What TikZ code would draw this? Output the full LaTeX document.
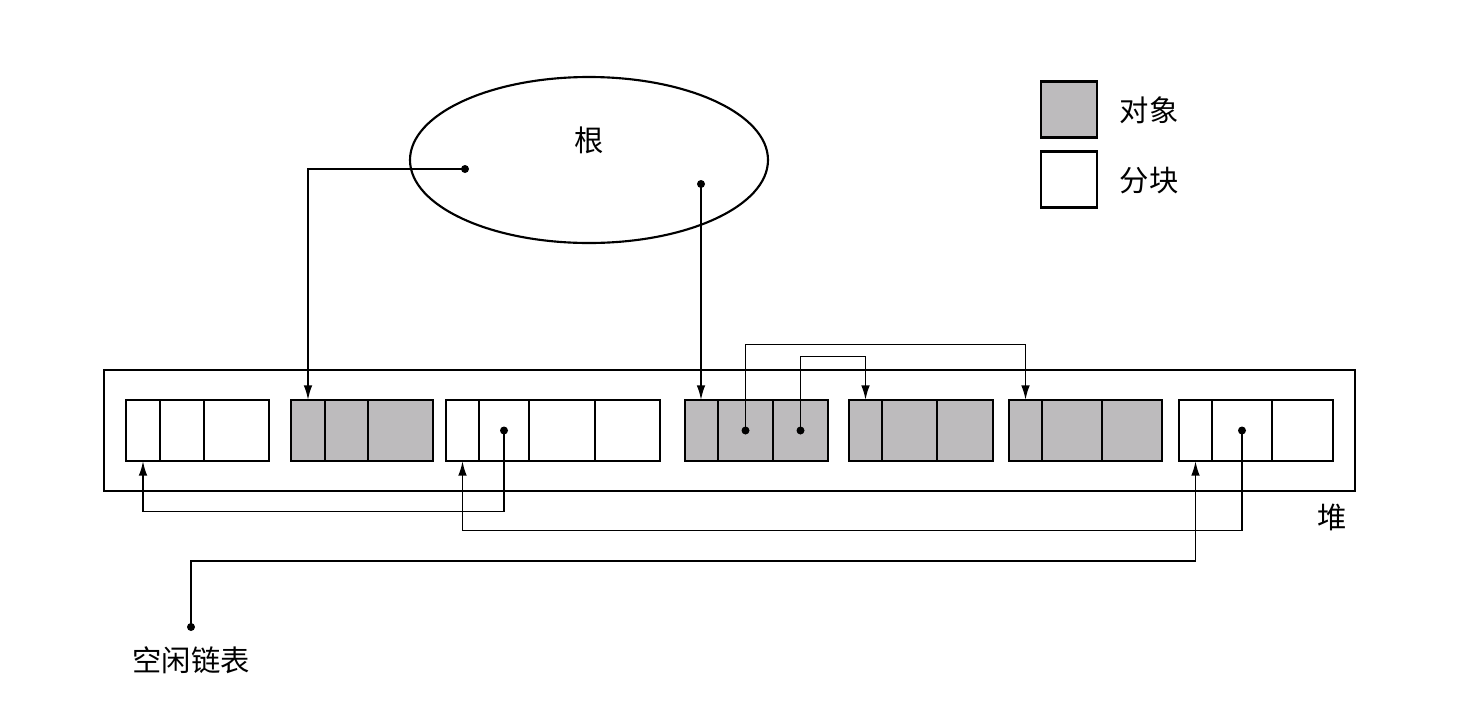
\documentclass[tikz,border=0pt]{standalone}
\usepackage{fontspec}
\newfontfamily\cjk{Noto Sans CJK SC}
\usetikzlibrary{arrows.meta,shapes.geometric}
\definecolor{objgray}{RGB}{189,187,189}

\begin{document}
\begin{tikzpicture}[
    x=0.75pt, y=-0.75pt,
    cell/.style={draw, line width=1.7pt, inner sep=0pt, outer sep=0pt, minimum height=45.75pt, anchor=west},
    dot/.style={circle, fill, inner sep=0pt, minimum size=6pt},
    ptr/.style={draw, line width=1.4pt, -{Latex[length=11pt, width=6.5pt]}},
    lbl/.style={font=\cjk\fontsize{22}{26}\selectfont, inner sep=0pt},
    line width=1.4pt
  ]
  \useasboundingbox (0,0) rectangle (1468,704);

  % heap with its blocks
  \node[draw, line width=1.7pt, inner sep=0pt, outer sep=0pt,
        minimum width=938.25pt, minimum height=90.75pt] (heap) at (729.5,430.5) {};
  \foreach \nm/\xa/\xb/\col in {1a/126/160/white, 1b/160/204/white, 1c/204/269/white,
      2a/291/325/objgray, 2b/325/368/objgray, 2c/368/433/objgray,
      3a/446/479/white, 3b/479/529/white, 3c/529/595/white, 3d/595/660/white,
      4a/685/718/objgray, 4b/718/773/objgray, 4c/773/828/objgray,
      5a/849/882/objgray, 5b/882/937/objgray, 5c/937/993/objgray,
      6a/1009/1042/objgray, 6b/1042/1102/objgray, 6c/1102/1162/objgray,
      7a/1179/1212/white, 7b/1212/1272/white, 7c/1272/1333/white}
    \node[cell, fill=\col, minimum width={(\xb-\xa)*0.75pt}] (b\nm) at (\xa,430.5) {};
  \node[lbl] (heaplbl) at (1332,517) {堆};

  % roots
  \node[ellipse, draw, line width=1.6pt, inner sep=0pt,
        minimum width=268.5pt, minimum height=124.5pt] (root) at (589,160) {};
  \node[lbl] (rootlbl) at (589,140) {根};
  \node[dot] (r1) at (465,169) {};
  \node[dot] (r2) at (701,184) {};

  % pointers inside blocks
  \node[dot] (d3b) at (b3b.center) {};
  \node[dot] (d4b) at (b4b.center) {};
  \node[dot] (d4c) at (b4c.center) {};
  \node[dot] (d7b) at (b7b.center) {};

  % free list
  \node[dot] (fl) at (191,627) {};
  \node[lbl] (fllbl) at (191,660) {空闲链表};

  \draw[ptr] (r1.center) -| (b2a.north);
  \draw[ptr] (r2.center) -- (r2 |- b4a.north);
  \draw[ptr] (d4b.center) -- ++(0,-86) -| (b6a.north);
  \draw[ptr] (d4c.center) -- ++(0,-74) -| (b5a.north);
  \draw[ptr] (d3b.center) -- ++(0,81) -| (b1a.south);
  \draw[ptr] (d7b.center) -- ++(0,100) -| (b3a.south);
  \draw[ptr] (fl.center) -- ++(0,-66) -| (b7a.south);

  % legend
  \node[cell, fill=objgray, anchor=center, minimum width=42pt, minimum height=42pt] (legobj) at (1069,109.5) {};
  \node[cell, fill=white, anchor=center, minimum width=42pt, minimum height=42pt] (legblk) at (1069,179.5) {};
  \node[lbl] (legobjlbl) at (1149,110) {对象};
  \node[lbl] (legblklbl) at (1149,181) {分块};
\end{tikzpicture}
\end{document}
